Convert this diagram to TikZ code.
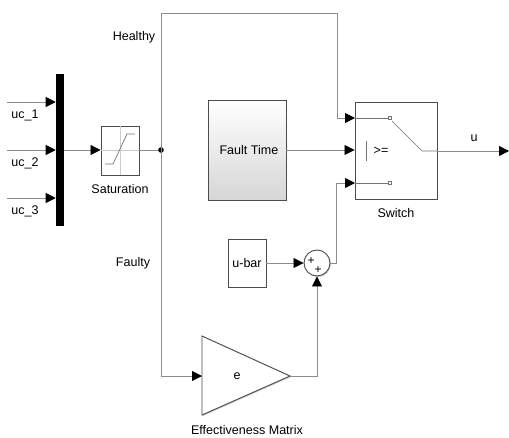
\documentclass[tikz,border=0pt]{standalone}
\usepackage{fontspec}
\setmainfont{Liberation Sans}
\usetikzlibrary{arrows.meta,shadows}

\tikzset{
  blk/.style={draw=black!70, line width=0.7pt, fill=white, inner sep=0pt,
    drop shadow={shadow xshift=0.8pt, shadow yshift=-0.8pt, opacity=0.35}},
  wire/.style={draw=black!45, line width=0.6pt},
  sig/.style={wire, -{Triangle[length=7.5pt,width=7.5pt,black]}},
  icon/.style={draw=black!55, line width=0.5pt}
}

\begin{document}
\begin{tikzpicture}[
  x=0.75pt,
  y=-0.75pt,
  font=\fontsize{9.4}{10}\selectfont
]
\useasboundingbox (0,0) rectangle (509,437);

% mux bar and its inputs
\node[fill=black, minimum width=6pt, minimum height=114pt, inner sep=0pt] (mux) at (60,150) {};
\coordinate (in1) at (7,102);
\coordinate (in2) at (7,150);
\coordinate (in3) at (7,198);
\draw[sig] (in1) -- (in1 -| mux.west);
\draw[sig] (in2) -- (in2 -| mux.west);
\draw[sig] (in3) -- (in3 -| mux.west);
\node (uc1) at (25,115) {uc\_1};
\node (uc2) at (25,163) {uc\_2};
\node (uc3) at (25,211) {uc\_3};

% Saturation
\node[blk, minimum width=28.5pt, minimum height=36.75pt] (sat) at (120,150.5) {};
\draw[black!20, line width=0.4pt] (sat.north) -- (sat.south);
\draw[black!20, line width=0.4pt] (sat.west) -- (sat.east);
\draw[icon] (105,164) -- (113,164) -- (127,134) -- (135,134);
\node (satlbl) at (120,189) {Saturation};
\draw[sig] (mux.east) -- (mux.east -| sat.west);

% branch point
\coordinate (jn) at (161,150);
\draw[wire] (sat.east |- jn) -- (jn);
\fill[black] (jn) circle (2.1pt);

% Fault Time
\node[blk, minimum width=58.5pt, minimum height=75pt, top color=white, bottom color=black!16] (ftime) at (247,150) {};
\node[anchor=east] (ftlbl) at (283,150) {Fault Time};

% Switch
\node[blk, minimum width=61.5pt, minimum height=72.75pt] (sw) at (396,150.5) {};
\coordinate (swin1) at (355,118);
\coordinate (swin2) at (355,151);
\coordinate (swin3) at (355,183);
\draw[icon] (swin1) -- (388.5,118);
\draw[icon] (388.5,116.5) rectangle (391.5,119.5);
\draw[icon] (392,121) -- (422,151) -- (sw.east |- swin2);
\draw[icon] (366,141) -- (366,161);
\node (ge) at (381,151) {>=};
\draw[icon] (swin3) -- (388.5,183);
\draw[icon] (388.5,181.5) rectangle (391.5,184.5);
\node (swlbl) at (396,213) {Switch};

% Healthy branch
\coordinate (htop) at (337,13);
\draw[sig] (jn) |- (htop) |- (swin1);
\node (hlbl) at (134,37) {Healthy};
\draw[sig] (ftime.east) -- (ftime.east -| sw.west);

% output
\coordinate (uout) at (509,151);
\draw[sig] (sw.east |- uout) -- (uout);
\node (ulbl) at (474,138) {u};

% u-bar and sum
\node[blk, minimum width=28.5pt, minimum height=36pt] (ubar) at (247,263) {u-bar};
\node[blk, circle, minimum size=19.5pt] (sum) at (317,263) {};
\node[font=\fontsize{9}{9}\selectfont] (p1) at (311,261) {+};
\node[font=\fontsize{9}{9}\selectfont] (p2) at (318,270) {+};
\draw[sig] (ubar.east) -- (sum.west);
\coordinate (sumup) at (336,263);
\draw[sig] (sum.east) -- (sumup) |- (swin3);

% Effectiveness Matrix
\coordinate (gin) at (202,376);
\coordinate (gout) at (290,376);
\draw[draw=black!70, line width=0.7pt, fill=white,
  drop shadow={shadow xshift=0.8pt, shadow yshift=-0.8pt, opacity=0.35}]
  (202,336) -- (gout) -- (202,415) -- cycle;
\node (glbl) at (237,376) {e};
\node (emlbl) at (247,430) {Effectiveness Matrix};
\draw[sig] (jn) |- (gin);
\node (flbl) at (133,263) {Faulty};
\draw[sig] (gout) -| (sum.south);
\end{tikzpicture}
\end{document}
